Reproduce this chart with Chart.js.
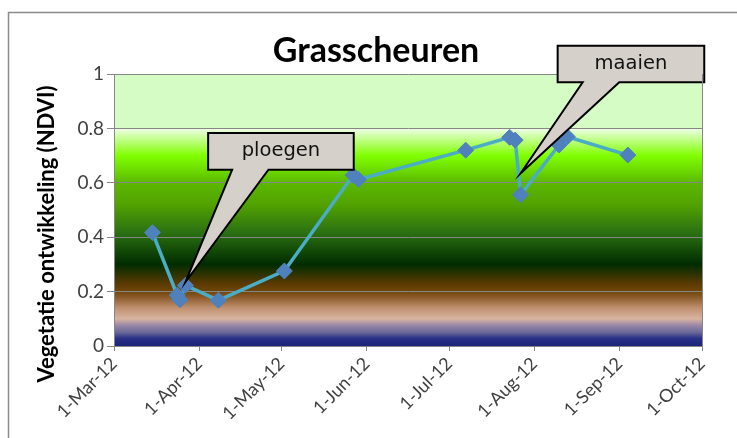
<!DOCTYPE html>
<html><head><meta charset="utf-8">
<script src="https://cdn.jsdelivr.net/npm/chart.js@4.4.0/dist/chart.umd.min.js"></script>
<style>html,body{margin:0;padding:0;background:#fff;overflow:hidden}#wrap{width:737px;height:438px;position:relative}</style>
</head><body><div id="wrap"><canvas id="c" width="737" height="438"></canvas></div>
<script>
// ---- data ----
const chartTitle = 'Grasscheuren';
const yAxisTitle = 'Vegetatie ontwikkeling (NDVI)';
const dates = ['2012-03-15','2012-03-24','2012-03-25','2012-03-27','2012-04-08','2012-05-02','2012-05-27','2012-05-29','2012-07-07','2012-07-23','2012-07-25','2012-07-27','2012-08-10','2012-08-13','2012-09-04'];
const ndvi  = [0.417,0.187,0.170,0.223,0.168,0.276,0.628,0.612,0.720,0.767,0.757,0.556,0.739,0.769,0.702];
const xTickDates  = ['2012-03-01','2012-04-01','2012-05-01','2012-06-01','2012-07-01','2012-08-01','2012-09-01','2012-10-01'];
const xTickLabels = ['1-Mar-12','1-Apr-12','1-May-12','1-Jun-12','1-Jul-12','1-Aug-12','1-Sep-12','1-Oct-12'];
const yTickValues = [0,0.2,0.4,0.6,0.8,1];
const yTickLabels = ['0','0.2','0.4','0.6','0.8','1'];
const calloutLabels = ['ploegen','maaien'];
const calloutDates  = ['2012-03-27','2012-07-27'];
const calloutValues = [0.235,0.635];

// ---- styles ----
const ORIGIN = Date.UTC(2012,2,1);
const toDay = d => (Date.parse(d + 'T00:00:00Z') - ORIGIN) / 86400000;
const bgStops = [
  [1.0,'#d6fcc6'],[0.801,'#d6fcc6'],[0.797,'#ecffe2'],[0.70,'#80ff00'],[0.64,'#6ad600'],
  [0.60,'#5cb800'],[0.52,'#52a200'],[0.42,'#2c7212'],[0.30,'#002c00'],[0.23,'#5a3a02'],
  [0.20,'#704608'],[0.18,'#8a5a28'],[0.14,'#c09070'],[0.10,'#d8b4a0'],[0.076,'#9a88a8'],
  [0.05,'#6a6898'],[0.028,'#283088'],[0.0,'#1a2478']
];
const calloutStyle = [
  {box:[22.7,168.3,-149,-112.4], base:[46.7,83]},
  {box:[37,183.6,-127.6,-91], base:[62,98.6]}
];
const FONT = 'Lato, "Liberation Sans", sans-serif';

const decor = {
  id: 'decor',
  beforeDraw(chart) {
    const {ctx, chartArea: a, scales: {y}} = chart;
    ctx.save();
    ctx.strokeStyle = '#8a8a8a'; ctx.lineWidth = 1.5;
    ctx.strokeRect(8.5, 12.5, 740, 440);
    const g = ctx.createLinearGradient(0, y.getPixelForValue(1), 0, y.getPixelForValue(0));
    bgStops.forEach(([v,c]) => g.addColorStop(1 - v, c));
    ctx.fillStyle = g;
    ctx.fillRect(a.left, a.top, a.right - a.left, a.bottom - a.top);
    ctx.restore();
  },
  afterDatasetsDraw(chart) {
    const {ctx, scales: {x, y}} = chart;
    ctx.save();
    calloutLabels.forEach((lab, i) => {
      const tx = x.getPixelForValue(toDay(calloutDates[i]));
      const ty = y.getPixelForValue(calloutValues[i]);
      const s = calloutStyle[i];
      const L = tx + s.box[0], R = tx + s.box[1], T = ty + s.box[2], B = ty + s.box[3];
      ctx.beginPath();
      ctx.moveTo(L, T); ctx.lineTo(R, T); ctx.lineTo(R, B);
      ctx.lineTo(tx + s.base[1], B); ctx.lineTo(tx, ty); ctx.lineTo(tx + s.base[0], B);
      ctx.lineTo(L, B); ctx.closePath();
      ctx.fillStyle = '#d5d1ca'; ctx.fill();
      ctx.lineWidth = 2; ctx.strokeStyle = '#000'; ctx.lineJoin = 'miter'; ctx.stroke();
      ctx.fillStyle = '#111'; ctx.font = '19.5px "DejaVu Sans", sans-serif';
      ctx.textAlign = 'center'; ctx.textBaseline = 'middle';
      ctx.fillText(lab, (L + R) / 2, (T + B) / 2);
    });
    ctx.restore();
  },
  afterDraw(chart) {
    const {ctx, chartArea: a} = chart;
    ctx.save();
    ctx.strokeStyle = '#868686'; ctx.lineWidth = 1;
    ctx.beginPath(); ctx.moveTo(a.right + 0.5, a.top); ctx.lineTo(a.right + 0.5, a.bottom); ctx.stroke();
    ctx.fillStyle = '#000';
    ctx.font = 'bold 34px ' + FONT;
    ctx.textAlign = 'center'; ctx.textBaseline = 'alphabetic';
    ctx.fillText(chartTitle, 376, 62);
    ctx.translate(47, 234); ctx.rotate(-Math.PI / 2);
    ctx.font = 'bold 22px ' + FONT; ctx.textBaseline = 'middle';
    ctx.fillText(yAxisTitle, 0, 0);
    ctx.restore();
  }
};

new Chart(document.getElementById('c'), {
  type: 'line',
  data: {
    datasets: [{
      data: dates.map((d, i) => ({x: toDay(d), y: ndvi[i]})),
      borderColor: '#4bacc6', borderWidth: 3.5, tension: 0, fill: false,
      pointStyle: 'rectRot', pointRadius: 8, pointBackgroundColor: '#4f81bd',
      pointBorderColor: '#4f81bd', pointBorderWidth: 1
    }]
  },
  options: {
    responsive: false, devicePixelRatio: 1, animation: false,
    layout: {padding: {left: 0, top: 74, right: 35, bottom: 0}},
    plugins: {legend: {display: false}, tooltip: {enabled: false}, title: {display: false}},
    scales: {
      x: {
        type: 'linear', min: toDay(xTickDates[0]), max: toDay(xTickDates[xTickDates.length - 1]),
        afterBuildTicks: s => { s.ticks = xTickDates.map(d => ({value: toDay(d)})); },
        afterFit: s => { s.height = 92; },
        ticks: {autoSkip: false, maxRotation: 45, minRotation: 45, padding: 2, color: '#404040',
          font: {family: FONT, size: 18}, callback: (v, i) => xTickLabels[i]},
        grid: {drawOnChartArea: false, tickLength: 5, color: '#868686'},
        border: {color: '#868686'}
      },
      y: {
        min: 0, max: 1,
        afterBuildTicks: s => { s.ticks = yTickValues.map(v => ({value: v})); },
        afterFit: s => { s.width = 114; },
        ticks: {padding: 3, color: '#404040', font: {family: FONT, size: 19}, callback: (v, i) => yTickLabels[i]},
        grid: {color: '#868686', tickLength: 7},
        border: {color: '#868686'}
      }
    }
  },
  plugins: [decor]
});
</script></body></html>
